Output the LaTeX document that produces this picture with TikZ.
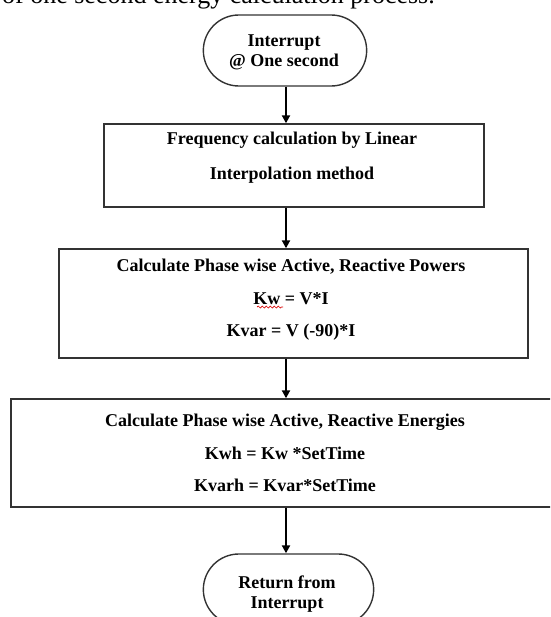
\documentclass[tikz,border=0pt]{standalone}
\usepackage{fontspec}
\setmainfont{Liberation Serif}
\usetikzlibrary{shapes.misc,arrows.meta,decorations.pathmorphing}
\tikzset{
  termbox/.style={rounded rectangle, draw=black!80, line width=1.4pt, fill=white},
  procbox/.style={rectangle, draw=black!80, line width=1.4pt, fill=white},
  lbl/.style={align=center, font=\fontsize{18}{20}\selectfont\bfseries, inner sep=0pt},
  arr/.style={draw=black, line width=2pt, -{Triangle[length=8pt,width=8pt]}},
  squiggle/.style={draw=red!85!black, line width=0.7pt, decorate, decoration={snake, amplitude=1pt, segment length=4pt}},
}
\begin{document}
\begin{tikzpicture}[x=1pt,y=-1pt]
\useasboundingbox (0,0) rectangle (550,617);
\clip (0,0) rectangle (550,617);
\node[anchor=base east, font=\fontsize{26}{30}\selectfont, inner sep=0pt] (cap) at (435,3.5) {of one second energy calculation process.};
\coordinate (ax) at (286,0);
% nodes
\node[termbox, minimum width=170pt, minimum height=71pt] (t1) at (285,50.5) {};
\node[lbl] (t1t) at (284,52) {Interrupt\\@ One second};
\node[procbox, minimum width=380pt, minimum height=83pt] (b2) at (294,165.5) {};
\node[lbl] (b2t) at (292,158) {Frequency calculation by Linear\\[15pt]Interpolation method};
\node[procbox, minimum width=469pt, minimum height=109pt] (b3) at (293.5,303.5) {};
\node[lbl] (b3t) at (291,300) {Calculate Phase wise Active, Reactive Powers\\[12.5pt]Kw = V*I\\[12.5pt]Kvar = V (-90)*I};
\node[procbox, minimum width=564pt, minimum height=108pt] (b4) at (293,453) {};
\node[lbl] (b4t) at (285,453) {Calculate Phase wise Active, Reactive Energies\\[12.5pt]Kwh = Kw *SetTime\\[12.5pt]Kvarh = Kvar*SetTime};
\node[termbox, minimum width=177pt, minimum height=71pt] (t2) at (288.5,589.5) {};
\node[lbl] (t2t) at (287,594) {Return from\\Interrupt};
% spell-check underline under "Kw"
\coordinate (sq1) at (257,307);
\coordinate (sq2) at (283,307);
\draw[squiggle] (sq1) -- (sq2);
% connectors
\draw[arr] (t1.south -| ax) -- (b2.north -| ax);
\draw[arr] (b2.south -| ax) -- (b3.north -| ax);
\draw[arr] (b3.south -| ax) -- (b4.north -| ax);
\draw[arr] (b4.south -| ax) -- (t2.north -| ax);
\end{tikzpicture}
\end{document}
